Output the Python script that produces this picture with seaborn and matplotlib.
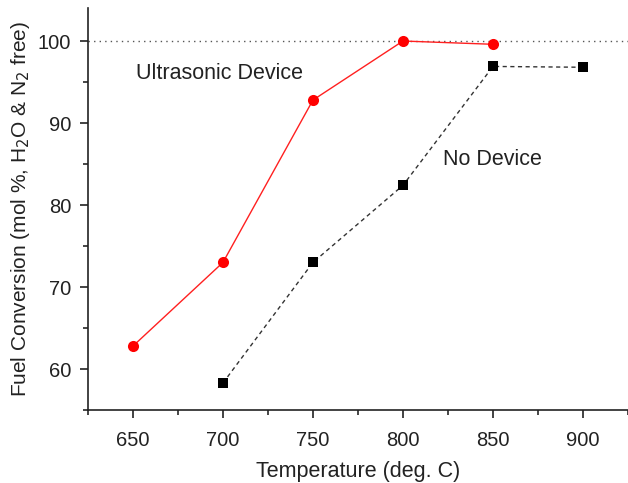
import matplotlib
matplotlib.use("Agg")
import matplotlib.pyplot as plt
import seaborn as sns
import pandas as pd
from matplotlib.ticker import MultipleLocator

sns.set_theme(style="ticks")
plt.rcParams['font.family'] = ['Liberation Sans', 'DejaVu Sans']

temp_ultra = [650, 700, 750, 800, 850]
conv_ultra = [62.8, 73.0, 92.8, 100.0, 99.6]
temp_none = [700, 750, 800, 850, 900]
conv_none = [58.3, 73.0, 82.4, 96.9, 96.8]

df_u = pd.DataFrame({"T": temp_ultra, "C": conv_ultra})
df_n = pd.DataFrame({"T": temp_none, "C": conv_none})

fig = plt.figure(figsize=(6.28, 4.83), dpi=100)
ax = fig.add_axes([0.140, 0.151, 0.860, 0.832])

ax.axhline(100, color="#555555", linestyle=(0, (1, 3)), linewidth=1.0, zorder=1)

sns.lineplot(data=df_u, x="T", y="C", ax=ax, color="#ff2020", linewidth=1.0,
             marker="o", markersize=8, markeredgewidth=0, markerfacecolor="#ff0000")
sns.lineplot(data=df_n, x="T", y="C", ax=ax, color="#333333", linewidth=1.0,
             linestyle=(0, (3, 2.5)), marker="s", markersize=7, markeredgewidth=0,
             markerfacecolor="black")

ax.set_xlim(625, 925)
ax.set_ylim(55, 104)
ax.xaxis.set_major_locator(MultipleLocator(50))
ax.xaxis.set_minor_locator(MultipleLocator(25))
ax.yaxis.set_major_locator(MultipleLocator(10))
ax.yaxis.set_minor_locator(MultipleLocator(5))
ax.tick_params(which="major", direction="out", length=6, width=1.2, labelsize=14.5, colors="#222222")
ax.tick_params(which="minor", direction="out", length=3.5, width=1.2)
ax.tick_params(axis="x", pad=9)
ax.tick_params(axis="y", pad=6)

for s in ["top", "right"]:
    ax.spines[s].set_visible(False)
for s in ["left", "bottom"]:
    ax.spines[s].set_linewidth(1.2)
    ax.spines[s].set_color("#222222")

ax.set_xlabel("Temperature (deg. C)", fontsize=15.5, color="#222222", labelpad=8)
ax.set_ylabel("Fuel Conversion (mol %, H$_2$O & N$_2$ free)", fontsize=15, color="#222222", labelpad=4)

ax.text(698, 96.0, "Ultrasonic Device", fontsize=15.5, ha="center", va="center", color="#222222")
ax.text(849.5, 85.6, "No Device", fontsize=15.5, ha="center", va="center", color="#222222")

fig.savefig("out.png", dpi=100)
